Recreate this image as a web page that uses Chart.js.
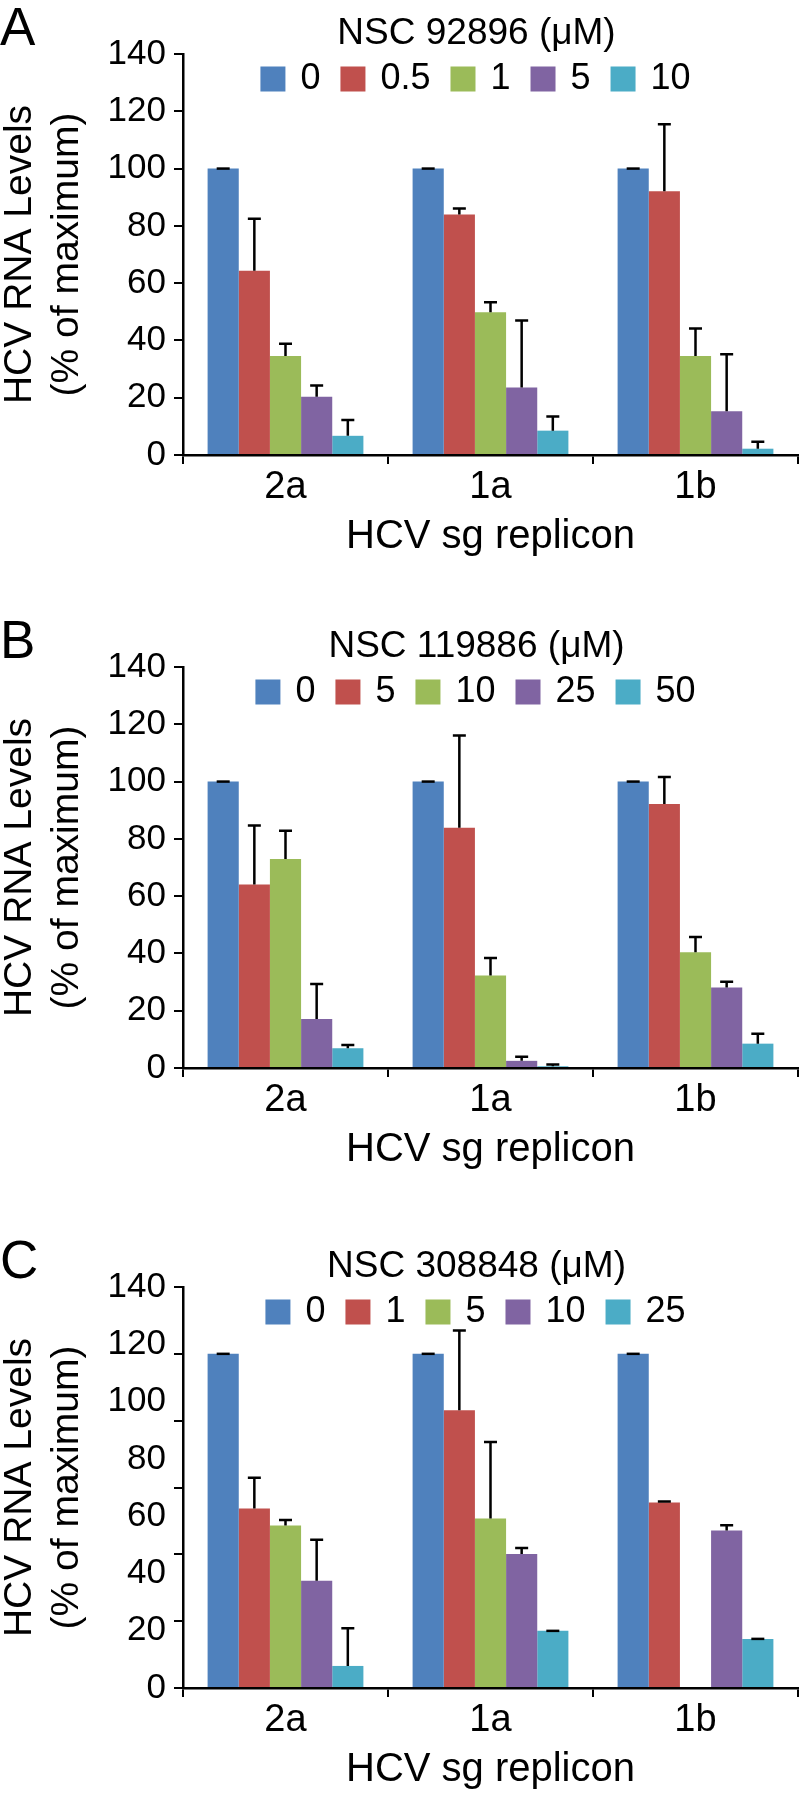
<!DOCTYPE html>
<html>
<head>
<meta charset="utf-8">
<script src="https://cdn.jsdelivr.net/npm/chart.js@4.4.1/dist/chart.umd.min.js"></script>
<style>
  body { margin: 0; background: #fff; }
  #page { position: relative; width: 800px; height: 1793px; overflow: hidden; }
  .panel { position: absolute; left: 0; width: 800px; height: 560px; }
  .letra { position: absolute; left: 0; font: 53px/1 "Liberation Sans", Arial, sans-serif; color: #000; }
</style>
</head>
<body>
<div id="page">
  <div class="panel" style="top:0px"><canvas id="grafA" width="800" height="560"></canvas></div>
  <div class="panel" style="top:613px"><canvas id="grafB" width="800" height="560"></canvas></div>
  <div class="panel" style="top:1233px"><canvas id="grafC" width="800" height="560"></canvas></div>
  <div class="letra" style="top:0px">A</div>
  <div class="letra" style="top:613px">B</div>
  <div class="letra" style="top:1233px">C</div>
</div>
<script>
const replicones = ['2a', '1a', '1b'];
const colores = ['#4F81BD', '#C0504D', '#9BBB59', '#8064A2', '#4BACC6'];

// A - NSC 92896
const dosisA = ['0', '0.5', '1', '5', '10'];
const valoresA = [
  [100, 100, 100],
  [64.3, 84, 92.1],
  [34.6, 49.8, 34.6],
  [20.3, 23.6, 15.3],
  [6.7, 8.5, 2.2]
];
const erroresA = [
  [0, 0, 0],
  [18.2, 2.1, 23.4],
  [4.2, 3.5, 9.6],
  [4.0, 23.4, 19.9],
  [5.5, 4.9, 2.4]
];

// B - NSC 119886
const dosisB = ['0', '5', '10', '25', '50'];
const valoresB = [
  [100, 100, 100],
  [64.1, 83.9, 92.2],
  [73.0, 32.3, 40.4],
  [17.1, 2.5, 28.1],
  [6.9, 0.6, 8.5]
];
const erroresB = [
  [0, 0, 0],
  [20.6, 32.2, 9.4],
  [9.8, 6.1, 5.3],
  [12.2, 1.4, 2.0],
  [1.1, 0.6, 3.5]
];

// C - NSC 308848 (las marcas del eje van de 0 a 120, las etiquetas de 0 a 140)
const dosisC = ['0', '1', '5', '10', '25'];
const valoresC = [
  [100, 100, 100],
  [53.7, 83.1, 55.5],
  [48.6, 50.7, null],
  [32.1, 40.1, 47.1],
  [6.6, 17.1, 14.7]
];
const erroresC = [
  [0, 0, 0],
  [9.2, 23.9, 0.3],
  [1.7, 22.9, 0],
  [12.3, 1.8, 1.6],
  [11.3, 0, 0]
];

const tituloY = ['HCV RNA Levels', '(% of maximum)'];
const tituloX = 'HCV sg replicon';

Chart.defaults.font.family = '"Liberation Sans", Arial, sans-serif';
Chart.defaults.color = '#000';

// barras de error (solo hacia arriba, con tope)
const barrasError = {
  id: 'barrasError',
  afterDatasetsDraw(chart) {
    const ctx = chart.ctx;
    const escala = chart.scales.y;
    ctx.save();
    ctx.strokeStyle = '#000';
    ctx.lineWidth = 2.5;
    chart.data.datasets.forEach((ds, i) => {
      const meta = chart.getDatasetMeta(i);
      meta.data.forEach((barra, j) => {
        const v = ds.data[j];
        if (v == null) return;
        const yTope = escala.getPixelForValue(v + ds.errores[j]);
        ctx.beginPath();
        ctx.moveTo(barra.x, barra.y);
        ctx.lineTo(barra.x, yTope);
        ctx.moveTo(barra.x - 6.5, yTope);
        ctx.lineTo(barra.x + 6.5, yTope);
        ctx.stroke();
      });
    });
    ctx.restore();
  }
};

// leyenda en una fila dentro del area del grafico
const filaLeyenda = {
  id: 'filaLeyenda',
  afterLayout(chart, args, opts) {
    if (chart.titleBlock) {
      chart.titleBlock.left += opts.corrTitulo;
      chart.titleBlock.right += opts.corrTitulo;
    }
  },
  afterDraw(chart, args, opts) {
    const {ctx, chartArea} = chart;
    ctx.save();
    ctx.font = opts.size + 'px ' + Chart.defaults.font.family;
    ctx.textBaseline = 'middle';
    const items = chart.data.datasets.map(ds => ({
      texto: ds.label, color: ds.backgroundColor, ancho: ctx.measureText(ds.label).width
    }));
    let total = opts.spacing * (items.length - 1);
    items.forEach(it => { total += opts.box + opts.gap + it.ancho; });
    let x = (chartArea.left + chartArea.right) / 2 + opts.corr - total / 2;
    const y = chartArea.top + opts.offsetY;
    items.forEach(it => {
      ctx.fillStyle = it.color;
      ctx.fillRect(x, y - opts.box / 2, opts.box, opts.box);
      ctx.fillStyle = '#000';
      ctx.fillText(it.texto, x + opts.box + opts.gap, y);
      x += opts.box + opts.gap + it.ancho + opts.spacing;
    });
    ctx.restore();
  }
};

function armarGrafica(id, titulo, dosis, valores, errores, dobleEje) {
  const datasets = dosis.map((d, i) => ({
    label: d,
    data: valores[i],
    errores: errores[i],
    backgroundColor: colores[i],
    borderWidth: 0,
    categoryPercentage: 0.76,
    barPercentage: 1.0
  }));

  const marcas = { drawOnChartArea: false, drawTicks: true, tickLength: 9, color: '#000', lineWidth: 2 };
  const borde = { display: true, color: '#000', width: 2.5 };
  const titY = {
    display: true, text: tituloY, color: '#000',
    font: { size: 39, lineHeight: '47px' },
    padding: { top: -3, bottom: 0 }
  };

  const scales = {
    x: {
      ticks: { font: { size: 38, lineHeight: 1 }, padding: 5, color: '#000' },
      grid: Object.assign({ offset: true }, marcas),
      border: borde,
      title: { display: true, text: tituloX, color: '#000', font: { size: 40, lineHeight: 1 }, padding: { top: 0, bottom: 3 } },
      afterFit: s => { s.height = 105; },
      z: 1
    }
  };

  if (!dobleEje) {
    scales.y = {
      min: 0, max: 140,
      ticks: { stepSize: 20, padding: 8, font: { size: 35 }, color: '#000' },
      grid: marcas,
      border: borde,
      title: titY,
      afterFit: s => { s.width = 183; },
      z: 1
    };
  } else {
    scales.y = {
      min: 0, max: 120,
      ticks: { stepSize: 20, display: false },
      grid: marcas,
      border: borde,
      afterFit: s => { s.width = 10; },
      z: 1
    };
    scales.yl = {
      type: 'linear', position: 'left', weight: 1,
      min: 0, max: 140,
      ticks: { stepSize: 20, padding: 7, font: { size: 35 }, color: '#000' },
      grid: { display: false, drawTicks: false },
      border: { display: false },
      title: titY,
      afterFit: s => { s.width = 173; }
    };
  }

  new Chart(document.getElementById(id), {
    type: 'bar',
    data: { labels: replicones, datasets: datasets },
    options: {
      responsive: false,
      animation: false,
      devicePixelRatio: 1,
      layout: { padding: { left: 0, right: 2, top: 0, bottom: 0 } },
      scales: scales,
      plugins: {
        legend: { display: false },
        tooltip: { enabled: false },
        title: {
          display: true, text: titulo, fullSize: false, color: '#000',
          font: { size: 37, lineHeight: 1, weight: 'normal' },
          padding: { top: 15.5, bottom: 1.5 }
        },
        filaLeyenda: { size: 36, box: 25, gap: 15, spacing: 20, corr: -15, corrTitulo: -14, offsetY: 25 }
      }
    },
    plugins: [barrasError, filaLeyenda]
  });
}

armarGrafica('grafA', 'NSC 92896 (\u03BCM)', dosisA, valoresA, erroresA, false);
armarGrafica('grafB', 'NSC 119886 (\u03BCM)', dosisB, valoresB, erroresB, false);
armarGrafica('grafC', 'NSC 308848 (\u03BCM)', dosisC, valoresC, erroresC, true);
</script>
</body>
</html>
